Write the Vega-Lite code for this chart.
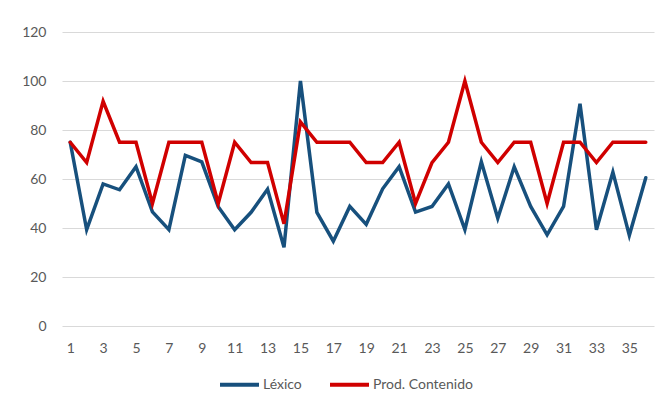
{
  "$schema": "https://vega.github.io/schema/vega-lite/v6.json",
  "width": 592,
  "height": 294,
  "autosize": {"type": "none"},
  "padding": {"left": 62, "top": 32, "right": 10, "bottom": 79},
  "background": "white",
  "config": {
    "view": {"stroke": null},
    "font": "Lato",
    "axis": {"labelFont": "Lato", "labelFontSize": 14, "labelColor": "#595959", "domain": false, "ticks": false, "gridColor": "#d9d9d9", "gridWidth": 1.2},
    "legend": {"labelFont": "Lato", "labelFontSize": 14, "labelColor": "#595959"}
  },
  "data": {
    "values": [
      {"x": 1, "serie": "Léxico", "valor": 75},
      {"x": 2, "serie": "Léxico", "valor": 39.3},
      {"x": 3, "serie": "Léxico", "valor": 58},
      {"x": 4, "serie": "Léxico", "valor": 55.6},
      {"x": 5, "serie": "Léxico", "valor": 65},
      {"x": 6, "serie": "Léxico", "valor": 46.6},
      {"x": 7, "serie": "Léxico", "valor": 39.3},
      {"x": 8, "serie": "Léxico", "valor": 69.6},
      {"x": 9, "serie": "Léxico", "valor": 67},
      {"x": 10, "serie": "Léxico", "valor": 48.7},
      {"x": 11, "serie": "Léxico", "valor": 39.3},
      {"x": 12, "serie": "Léxico", "valor": 46.4},
      {"x": 13, "serie": "Léxico", "valor": 55.8},
      {"x": 14, "serie": "Léxico", "valor": 32.1},
      {"x": 15, "serie": "Léxico", "valor": 100},
      {"x": 16, "serie": "Léxico", "valor": 46.4},
      {"x": 17, "serie": "Léxico", "valor": 34.6},
      {"x": 18, "serie": "Léxico", "valor": 48.8},
      {"x": 19, "serie": "Léxico", "valor": 41.5},
      {"x": 20, "serie": "Léxico", "valor": 56},
      {"x": 21, "serie": "Léxico", "valor": 65},
      {"x": 22, "serie": "Léxico", "valor": 46.5},
      {"x": 23, "serie": "Léxico", "valor": 48.8},
      {"x": 24, "serie": "Léxico", "valor": 58},
      {"x": 25, "serie": "Léxico", "valor": 39.3},
      {"x": 26, "serie": "Léxico", "valor": 67},
      {"x": 27, "serie": "Léxico", "valor": 44},
      {"x": 28, "serie": "Léxico", "valor": 65},
      {"x": 29, "serie": "Léxico", "valor": 48.8},
      {"x": 30, "serie": "Léxico", "valor": 37.2},
      {"x": 31, "serie": "Léxico", "valor": 48.8},
      {"x": 32, "serie": "Léxico", "valor": 90.7},
      {"x": 33, "serie": "Léxico", "valor": 39.3},
      {"x": 34, "serie": "Léxico", "valor": 62.8},
      {"x": 35, "serie": "Léxico", "valor": 37},
      {"x": 36, "serie": "Léxico", "valor": 60.5},
      {"x": 1, "serie": "Prod. Contenido", "valor": 75},
      {"x": 2, "serie": "Prod. Contenido", "valor": 66.7},
      {"x": 3, "serie": "Prod. Contenido", "valor": 91.7},
      {"x": 4, "serie": "Prod. Contenido", "valor": 75},
      {"x": 5, "serie": "Prod. Contenido", "valor": 75},
      {"x": 6, "serie": "Prod. Contenido", "valor": 50},
      {"x": 7, "serie": "Prod. Contenido", "valor": 75},
      {"x": 8, "serie": "Prod. Contenido", "valor": 75},
      {"x": 9, "serie": "Prod. Contenido", "valor": 75},
      {"x": 10, "serie": "Prod. Contenido", "valor": 50},
      {"x": 11, "serie": "Prod. Contenido", "valor": 75},
      {"x": 12, "serie": "Prod. Contenido", "valor": 66.7},
      {"x": 13, "serie": "Prod. Contenido", "valor": 66.7},
      {"x": 14, "serie": "Prod. Contenido", "valor": 41.7},
      {"x": 15, "serie": "Prod. Contenido", "valor": 83.3},
      {"x": 16, "serie": "Prod. Contenido", "valor": 75},
      {"x": 17, "serie": "Prod. Contenido", "valor": 75},
      {"x": 18, "serie": "Prod. Contenido", "valor": 75},
      {"x": 19, "serie": "Prod. Contenido", "valor": 66.7},
      {"x": 20, "serie": "Prod. Contenido", "valor": 66.7},
      {"x": 21, "serie": "Prod. Contenido", "valor": 75},
      {"x": 22, "serie": "Prod. Contenido", "valor": 50},
      {"x": 23, "serie": "Prod. Contenido", "valor": 66.7},
      {"x": 24, "serie": "Prod. Contenido", "valor": 75},
      {"x": 25, "serie": "Prod. Contenido", "valor": 100},
      {"x": 26, "serie": "Prod. Contenido", "valor": 75},
      {"x": 27, "serie": "Prod. Contenido", "valor": 66.7},
      {"x": 28, "serie": "Prod. Contenido", "valor": 75},
      {"x": 29, "serie": "Prod. Contenido", "valor": 75},
      {"x": 30, "serie": "Prod. Contenido", "valor": 50},
      {"x": 31, "serie": "Prod. Contenido", "valor": 75},
      {"x": 32, "serie": "Prod. Contenido", "valor": 75},
      {"x": 33, "serie": "Prod. Contenido", "valor": 66.7},
      {"x": 34, "serie": "Prod. Contenido", "valor": 75},
      {"x": 35, "serie": "Prod. Contenido", "valor": 75},
      {"x": 36, "serie": "Prod. Contenido", "valor": 75}
    ]
  },
  "mark": {"type": "line", "strokeWidth": 3.5, "strokeJoin": "miter", "strokeCap": "round"},
  "encoding": {
    "x": {
      "field": "x", "type": "quantitative",
      "scale": {"domain": [0.5, 36.5], "nice": false, "zero": false},
      "axis": {"title": null, "values": [1,3,5,7,9,11,13,15,17,19,21,23,25,27,29,31,33,35], "grid": false, "labelPadding": 15, "labelFlush": false}
    },
    "y": {
      "field": "valor", "type": "quantitative",
      "scale": {"domain": [0, 120], "nice": false},
      "axis": {"title": null, "values": [0,20,40,60,80,100,120], "labelPadding": 16}
    },
    "color": {
      "field": "serie", "type": "nominal",
      "scale": {"domain": ["Léxico", "Prod. Contenido"], "range": ["#17507D", "#D00000"]},
      "legend": {"title": null, "orient": "none", "legendX": 156, "legendY": 331, "direction": "horizontal", "symbolType": "stroke", "symbolSize": 1521, "symbolStrokeWidth": 4, "labelOffset": 2, "columnPadding": 20}
    }
  }
}
